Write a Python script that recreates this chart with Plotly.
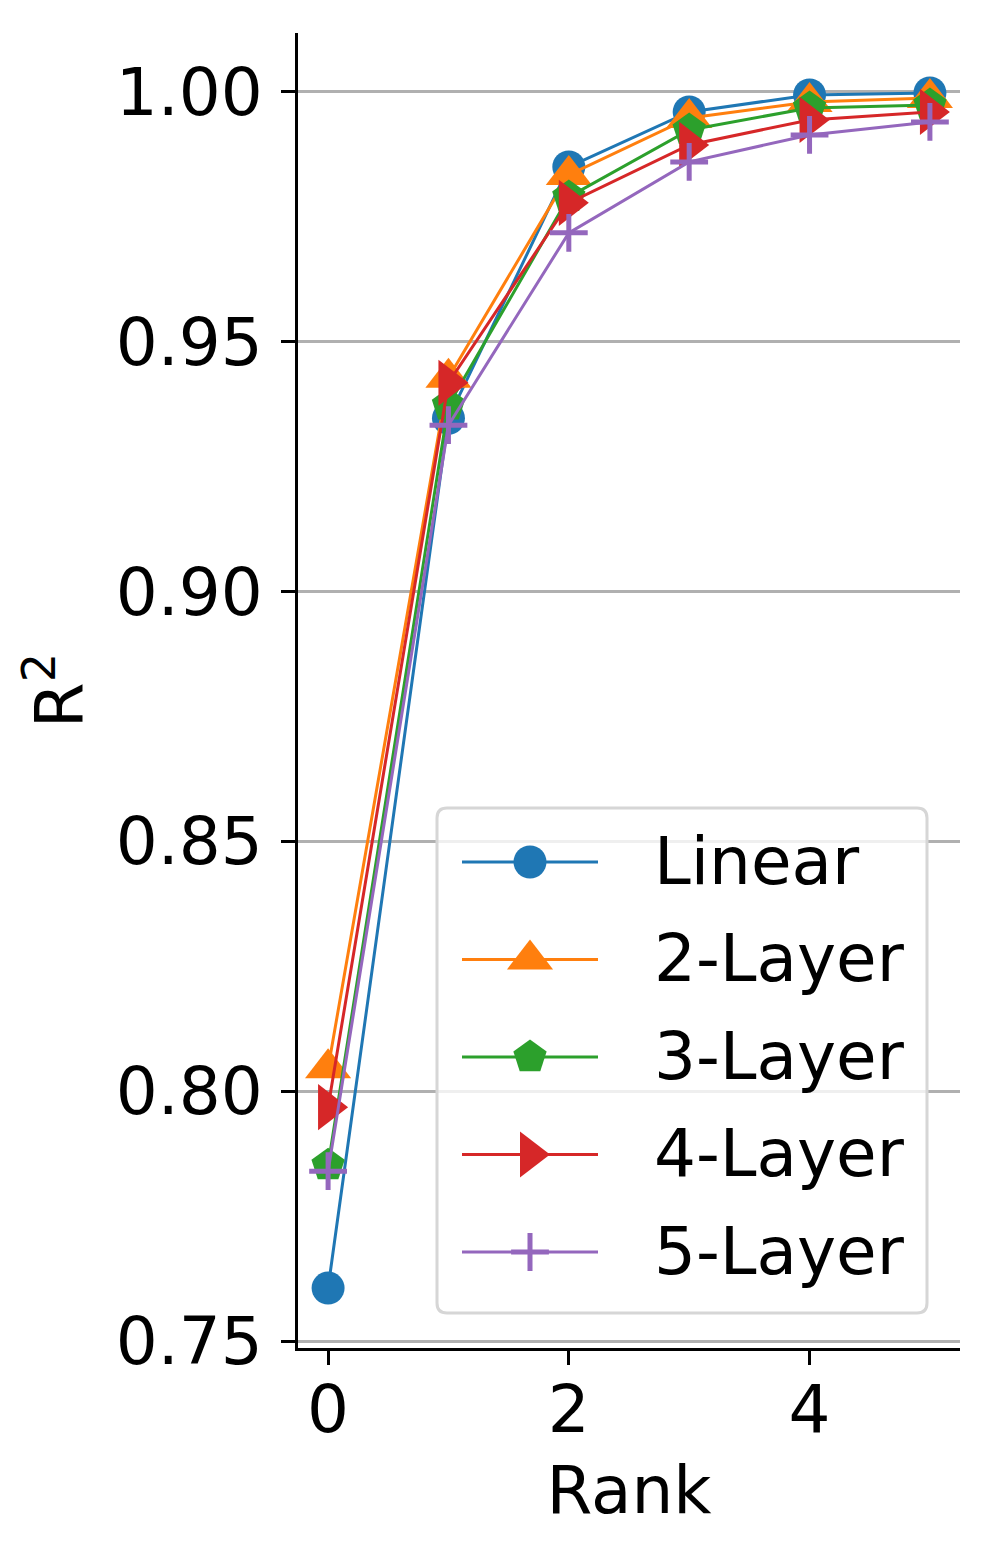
import plotly.graph_objects as go

# ---- data ----
ranks = [0, 1, 2, 3, 4, 5]
series_names = ["Linear", "2-Layer", "3-Layer", "4-Layer", "5-Layer"]
linear = [0.7606, 0.9347, 0.9850, 0.9960, 0.9994, 0.9998]
layer2 = [0.8046, 0.9428, 0.9834, 0.9948, 0.9980, 0.9988]
layer3 = [0.7852, 0.9373, 0.9790, 0.9924, 0.9968, 0.9974]
layer4 = [0.7968, 0.9418, 0.9778, 0.9894, 0.9944, 0.9960]
layer5 = [0.7840, 0.9333, 0.9718, 0.9860, 0.9914, 0.9940]
y_ticks = [0.75, 0.80, 0.85, 0.90, 0.95, 1.00]
x_ticks = [0, 2, 4]

# ---- styles ----
colors = ["#1f77b4", "#ff7f0e", "#2ca02c", "#d62728", "#9467bd"]
symbols = ["circle", "triangle-up", "pentagon", "triangle-right", "cross-thin"]
msizes = [33, 40, 35, 40, 27]
FONT = "DejaVu Sans"
FS = 66

# page body has an 8px default margin -> shrink figure so it ends at window edge
OFF = 8
W, H = 995 - OFF, 1564 - OFF
L, R, T, B = 298 - OFF, 35, 33 - OFF, 216

fig = go.Figure()
all_series = [linear, layer2, layer3, layer4, layer5]
for name, vals, c, s, ms in zip(series_names, all_series, colors, symbols, msizes):
    fig.add_trace(go.Scatter(
        x=ranks, y=vals, name=name, mode="lines+markers",
        line=dict(color=c, width=3),
        marker=dict(symbol=s, size=ms, color=c,
                    line=dict(color=c, width=5 if s == "cross-thin" else 0)),
        showlegend=False, xaxis="x", yaxis="y"))

# ---- custom legend on a pixel-coordinate overlay axis (reference pixel coords) ----
box_l, box_r, box_t, box_b = 437, 927, 808, 1313
line_x0, line_x1, mark_x, text_x = 462, 598, 530, 652
entry_y0, entry_dy = 862, 97.5
rad = 10
path = (f"M {box_l+rad},{box_t} L {box_r-rad},{box_t} Q {box_r},{box_t} {box_r},{box_t+rad} "
        f"L {box_r},{box_b-rad} Q {box_r},{box_b} {box_r-rad},{box_b} "
        f"L {box_l+rad},{box_b} Q {box_l},{box_b} {box_l},{box_b-rad} "
        f"L {box_l},{box_t+rad} Q {box_l},{box_t} {box_l+rad},{box_t} Z")
fig.add_shape(type="path", path=path, xref="x2", yref="y2", layer="between",
              line=dict(color="#d6d6d6", width=3), fillcolor="rgba(255,255,255,0.8)")

annotations = []
for i, (name, c, s, ms) in enumerate(zip(series_names, colors, symbols, msizes)):
    yy = entry_y0 + i * entry_dy
    fig.add_trace(go.Scatter(
        x=[line_x0, line_x1], y=[yy, yy], mode="lines",
        line=dict(color=c, width=3), showlegend=False, hoverinfo="skip",
        xaxis="x2", yaxis="y2"))
    fig.add_trace(go.Scatter(
        x=[mark_x], y=[yy], mode="markers",
        marker=dict(symbol=s, size=ms, color=c,
                    line=dict(color=c, width=5 if s == "cross-thin" else 0)),
        showlegend=False, hoverinfo="skip", xaxis="x2", yaxis="y2"))
    annotations.append(dict(x=text_x, y=yy - 1, xref="x2", yref="y2", text=name,
                            showarrow=False, xanchor="left", yanchor="middle",
                            font=dict(family=FONT, size=FS, color="black")))

fig.update_layout(
    width=W, height=H,
    margin=dict(l=L, r=R, t=T, b=B, pad=0),
    paper_bgcolor="white", plot_bgcolor="rgba(0,0,0,0)",
    font=dict(family=FONT, size=FS, color="black"),
    showlegend=False,
    annotations=annotations,
    xaxis=dict(
        range=[-0.25, 5.25], tickvals=x_ticks, ticktext=[str(v) for v in x_ticks],
        showgrid=False, zeroline=False, showline=True, linecolor="black", linewidth=3,
        ticks="outside", ticklen=14, tickwidth=3, tickcolor="black",
        ticklabelstandoff=-12,
        title=dict(text="Rank", standoff=20, font=dict(family=FONT, size=FS)),
        tickfont=dict(family=FONT, size=FS, color="black")),
    yaxis=dict(
        range=[0.7486, 1.0118], tickvals=y_ticks, ticktext=[f"{v:.2f}" for v in y_ticks],
        showgrid=True, gridcolor="#b0b0b0", gridwidth=3,
        zeroline=False, showline=True, linecolor="black", linewidth=3,
        ticks="outside", ticklen=14, tickwidth=3, tickcolor="black",
        ticklabelstandoff=5,
        title=dict(text="R<sup>2</sup>", standoff=12, font=dict(family=FONT, size=FS)),
        tickfont=dict(family=FONT, size=FS, color="black")),
    xaxis2=dict(range=[298, 960], domain=[0, 1], anchor="y2", visible=False, fixedrange=True),
    yaxis2=dict(range=[1348, 33], domain=[0, 1], anchor="x2", visible=False, fixedrange=True),
)

fig.write_html("out.html")
